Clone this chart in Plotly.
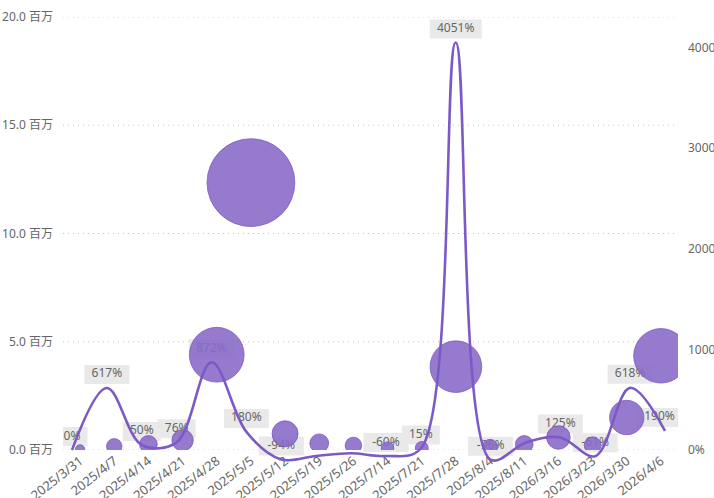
import math
import plotly.graph_objects as go

# ---------------- data ----------------
categories = ["2025/3/31", "2025/4/7", "2025/4/14", "2025/4/21", "2025/4/28",
              "2025/5/5", "2025/5/12", "2025/5/19", "2025/5/26", "2025/7/14",
              "2025/7/21", "2025/7/28", "2025/8/4", "2025/8/11", "2026/3/16",
              "2026/3/23", "2026/3/30", "2026/4/6"]
values_m = [0.025, 0.17, 0.26, 0.45, 4.4, 12.35, 0.75, 0.31, 0.21, 0.085,
            0.095, 3.85, 0.15, 0.26, 0.58, 0.22, 1.5, 4.35]          # 百万
growth_pct = [0, 617, 50, 76, 872, 180, -94, -59, -32, -60,
              15, 4051, -96, 73, 125, -61, 618, 190]                 # %
label_visible = [True, True, True, True, True, True, True, False, False, True,
                 True, True, True, False, True, True, True, True]
left_tickvals = [0, 5, 10, 15, 20]
left_ticktext = ["0.0 百万", "5.0 百万", "10.0 百万", "15.0 百万", "20.0 百万"]
right_tickvals = [0, 1000, 2000, 3000, 4000]
right_ticktext = ["0%", "1000%", "2000%", "3000%", "4000%"]

# ---------------- layout geometry (pixels) ----------------
W, H = 714, 498
PL, PR = 63, 678          # plot left / right
PT, PB = 17, 450          # plot top / bottom (zero line)
PB_LINE = 478             # line layer extends a little below the zero line
LINE_X0, LINE_X1 = 72, 665  # first / last line point
PCT_TOP = 4305.0

n = len(categories)
idx = list(range(n))
step = (LINE_X1 - LINE_X0) / (n - 1)
lx0 = -(LINE_X0 - PL) / step
lx1 = lx0 + (PR - PL) / step
pct_lo = -(PB_LINE - PB) * PCT_TOP / (PB - PT)
pct_per_px = PCT_TOP / (PB - PT)

FONT = "Noto Sans, Noto Sans CJK SC, sans-serif"
TXT = "#666666"
LINE_COLOR = "rgb(124,90,198)"
BUBBLE_COLOR = "rgba(138,107,200,0.9)"

xdom = [PL / W, PR / W]
ydom_bubble = [(H - PB) / H, (H - PT) / H]
ydom_line = [(H - PB_LINE) / H, (H - PT) / H]

fig = go.Figure()

# ---- data labels (subplot A: lowest layer) ----
shapes = []
lab_x, lab_y, lab_t = [], [], []
for i, (p, show) in enumerate(zip(growth_pct, label_visible)):
    if not show:
        continue
    txt = f"{p}%"
    w = 7 * len(txt) + 17
    cx = LINE_X0 + i * step
    shift = min(0, (PR + 4) - (cx + w / 2))
    shapes.append(dict(
        type="rect", xref="x", yref="y", xsizemode="pixel", ysizemode="pixel",
        xanchor=i, yanchor=p, x0=-w / 2 + shift, x1=w / 2 + shift, y0=4, y1=23,
        fillcolor="#e9e9e9", line=dict(width=0), layer="between"))
    lab_x.append(i + shift / step)
    lab_y.append(p + 13.5 * pct_per_px)
    lab_t.append(txt)

fig.add_trace(go.Scatter(
    x=lab_x, y=lab_y, text=lab_t, mode="text", textposition="middle center",
    textfont=dict(family=FONT, size=12, color=TXT), hoverinfo="skip",
    showlegend=False, xaxis="x", yaxis="y", cliponaxis=False))

# ---- bubbles (subplot B) ----
sizes = [2 * (2.9 + 11.67 * math.sqrt(v)) for v in values_m]
fig.add_trace(go.Scatter(
    x=categories, y=values_m, mode="markers",
    marker=dict(size=sizes, sizemode="diameter", color=BUBBLE_COLOR, opacity=1,
                line=dict(color="rgba(120,88,192,0.95)", width=0.8)),
    showlegend=False, xaxis="x2", yaxis="y2", cliponaxis=True))

# ---- growth line (subplot C: top) ----
fig.add_trace(go.Scatter(
    x=idx, y=growth_pct, mode="lines",
    line=dict(color=LINE_COLOR, width=2.6, shape="spline", smoothing=1.0),
    showlegend=False, xaxis="x3", yaxis="y3"))

# dotted gridlines (paper-referenced -> lowest layer)
for t in left_tickvals:
    shapes.append(dict(type="line", xref="paper", yref="y2",
                       x0=xdom[0], x1=xdom[1], y0=t, y1=t,
                       line=dict(color="#c4c4c4", width=1, dash="1px,4px"),
                       layer="below"))

fig.update_layout(
    template="none",
    width=W, height=H,
    margin=dict(l=0, r=0, t=0, b=0, autoexpand=False),
    paper_bgcolor="white", plot_bgcolor="rgba(0,0,0,0)",
    font=dict(family=FONT, size=12, color=TXT),
    shapes=shapes,
    xaxis=dict(domain=xdom, anchor="y", type="linear", range=[lx0, lx1],
               visible=False, showgrid=False, zeroline=False, automargin=False),
    yaxis=dict(domain=ydom_line, anchor="x", side="right",
               range=[pct_lo, PCT_TOP], tickvals=right_tickvals,
               ticktext=right_ticktext, showgrid=False, zeroline=False,
               showline=False, ticks="", ticklabelstandoff=9, automargin=False,
               tickfont=dict(family=FONT, size=12, color=TXT)),
    xaxis2=dict(domain=xdom, anchor="y2", type="category", range=[-0.5, n - 0.5],
                showgrid=False, zeroline=False, showline=False, ticks="",
                tickangle=-38, automargin=False,
                tickfont=dict(family=FONT, size=13, color=TXT)),
    yaxis2=dict(domain=ydom_bubble, anchor="x2", side="left", range=[0, 20],
                tickvals=left_tickvals, ticktext=left_ticktext,
                showgrid=False, zeroline=False, showline=False, ticks="",
                ticklabelstandoff=9, automargin=False,
                tickfont=dict(family=FONT, size=12, color=TXT)),
    xaxis3=dict(domain=xdom, anchor="y3", type="linear", range=[lx0, lx1],
                visible=False, showgrid=False, zeroline=False, automargin=False),
    yaxis3=dict(domain=ydom_line, anchor="x3", range=[pct_lo, PCT_TOP],
                visible=False, showgrid=False, zeroline=False, automargin=False),
)

fig.write_html("out.html")
